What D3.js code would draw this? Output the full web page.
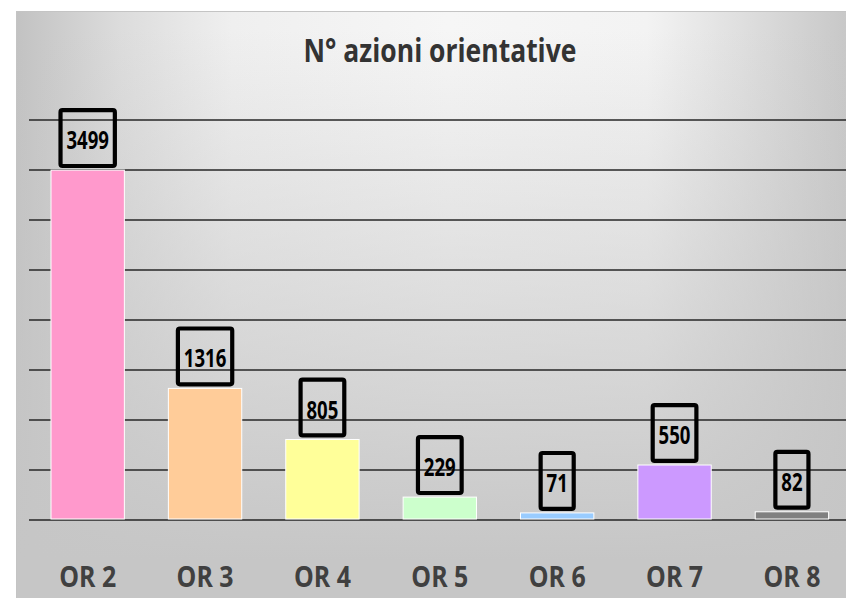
<!DOCTYPE html>
<html>
<head>
<meta charset="utf-8">
<script src="https://cdn.jsdelivr.net/npm/d3@7"></script>
<style>
  html, body { margin: 0; padding: 0; background: #ffffff; }
  svg { display: block; }
</style>
</head>
<body>
<script>
// ---- data ----
const title = "N° azioni orientative";
const categories = ["OR 2", "OR 3", "OR 4", "OR 5", "OR 6", "OR 7", "OR 8"];
const values = [3499, 1316, 805, 229, 71, 550, 82];
const colors = ["#ff99cc", "#ffcc99", "#ffff99", "#ccffcc", "#99ccff", "#cc99ff", "#808080"];
const yMax = 4000;
const yStep = 500;

// ---- layout ----
const W = 846, H = 598;
const svg = d3.select("body").append("svg").attr("width", W).attr("height", H);
const defs = svg.append("defs");

const hg = defs.append("linearGradient").attr("id", "hg")
  .attr("gradientUnits", "userSpaceOnUse").attr("x1", 16).attr("x2", 846).attr("y1", 0).attr("y2", 0);
[[0, "#c2c2c2"], [0.125, "#dcdcdc"], [0.26, "#efefef"], [0.52, "#f6f6f6"], [0.76, "#f3f3f3"], [0.89, "#dcdcdc"], [1, "#c8c8c8"]]
  .forEach(([o, c]) => hg.append("stop").attr("offset", o).attr("stop-color", c));

const vg = defs.append("linearGradient").attr("id", "vg")
  .attr("gradientUnits", "userSpaceOnUse").attr("x1", 0).attr("x2", 0).attr("y1", 30).attr("y2", 560);
vg.append("stop").attr("offset", 0).attr("stop-color", "#c6c6c6").attr("stop-opacity", 0);
vg.append("stop").attr("offset", 1).attr("stop-color", "#c6c6c6").attr("stop-opacity", 1);

svg.append("rect").attr("x", 16).attr("y", 11).attr("width", W).attr("height", H)
  .attr("fill", "url(#hg)");
svg.append("rect").attr("x", 16).attr("y", 11).attr("width", W).attr("height", H)
  .attr("fill", "url(#vg)");
svg.append("rect").attr("x", 16.5).attr("y", 11.5).attr("width", W).attr("height", H)
  .attr("fill", "none").attr("stroke", "#c4c4c4").attr("stroke-width", 1);

const x = d3.scaleBand().domain(categories).range([29, 850.6])
  .paddingInner(0.375).paddingOuter(0.1875);
const y = d3.scaleLinear().domain([0, yMax]).range([520, 120]);

const font = "'Open Sans', 'Noto Sans', sans-serif";

// gridlines
const ticks = d3.range(yStep, yMax + 1, yStep);
svg.append("g").selectAll("line").data(ticks).join("line")
  .attr("x1", 29).attr("x2", W).attr("y1", d => y(d)).attr("y2", d => y(d))
  .attr("stroke", "#262626").attr("stroke-width", 1.3);

// baseline
svg.append("line").attr("x1", 29).attr("x2", W).attr("y1", y(0)).attr("y2", y(0))
  .attr("stroke", "#4d4d4d").attr("stroke-width", 2);

// bars
svg.append("g").selectAll("rect").data(values).join("rect")
  .attr("x", (d, i) => x(categories[i]))
  .attr("y", d => y(d))
  .attr("width", x.bandwidth())
  .attr("height", d => y(0) - y(d) - 1)
  .attr("fill", (d, i) => colors[i])
  .attr("stroke", "#ffffff").attr("stroke-width", 1);

// data labels with boxes
const lbl = svg.append("g");
values.forEach((v, i) => {
  const cx = x(categories[i]) + x.bandwidth() / 2;
  const top = y(v);
  const g = lbl.append("g");
  const t = g.append("text")
    .attr("transform", `translate(${cx},${top - 21}) scale(1,1.3)`)
    .attr("text-anchor", "middle")
    .attr("font-family", font).attr("font-weight", 700).attr("font-size", 18.6)
    .attr("fill", "#000").text(v);
  const tw = t.node().getComputedTextLength();
  const sw = 4.2;
  const ow = tw + 16, oh = 60;
  g.insert("rect", "text")
    .attr("x", cx - ow / 2 + sw / 2).attr("y", top - 2 - oh + sw / 2)
    .attr("width", ow - sw).attr("height", oh - sw)
    .attr("rx", 2).attr("fill", "none").attr("stroke", "#000").attr("stroke-width", sw);
});

// category labels
svg.append("g").selectAll("text").data(categories).join("text")
  .attr("transform", d => `translate(${x(d) + x.bandwidth() / 2},586.5) scale(1,1.18)`)
  .attr("text-anchor", "middle")
  .attr("font-family", font).attr("font-weight", 700).attr("font-size", 24.9)
  .attr("fill", "#404040").text(d => d);

// title
svg.append("text")
  .attr("transform", `translate(440,62) scale(1,1.24)`)
  .attr("text-anchor", "middle")
  .attr("font-family", font).attr("font-weight", 700).attr("font-size", 26.5)
  .attr("fill", "#333333").text(title);
</script>
</body>
</html>
